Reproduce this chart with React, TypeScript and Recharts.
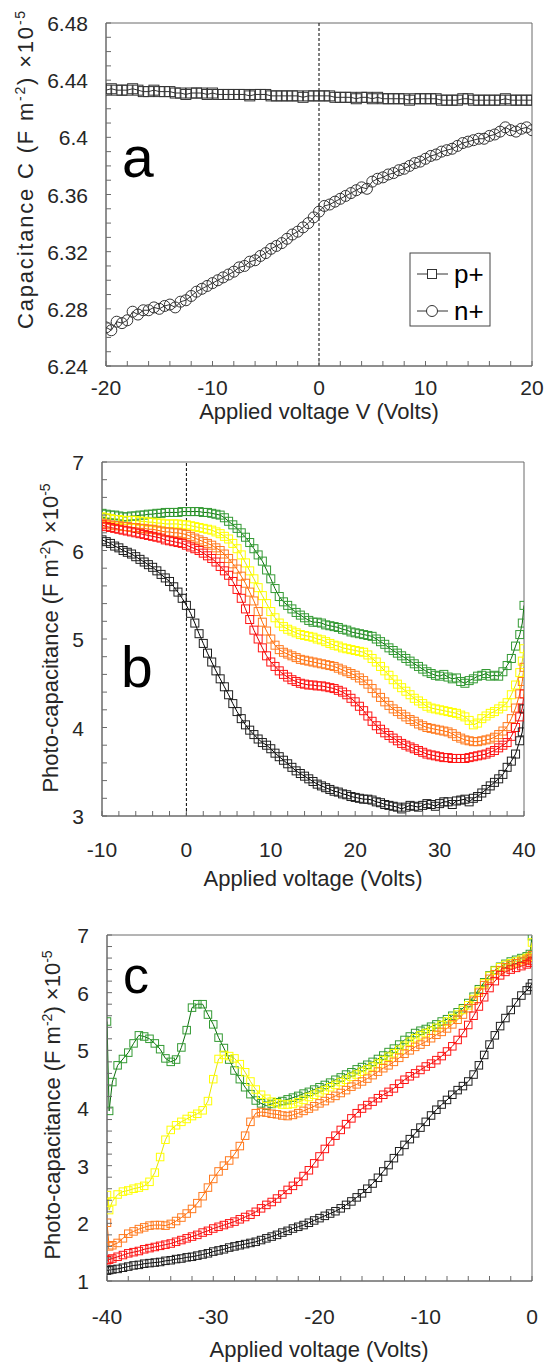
import React from 'react';
import { LineChart, Line, XAxis, YAxis, ReferenceLine, ReferenceArea } from 'recharts';

const FONT = 'Arial, "Liberation Sans", Helvetica, sans-serif';
const AXIS = '#6a6a6a';
const TXT = '#262626';

// ---------- Panel a ----------
const VOLT_A = [
  -20, -19.5, -19, -18.5, -18, -17.5, -17, -16.5, -16, -15.5,
  -15, -14.5, -14, -13.5, -13, -12.5, -12, -11.5, -11, -10.5,
  -10, -9.5, -9, -8.5, -8, -7.5, -7, -6.5, -6, -5.5,
  -5, -4.5, -4, -3.5, -3, -2.5, -2, -1.5, -1, -0.5,
  0, 0.5, 1, 1.5, 2, 2.5, 3, 3.5, 4, 4.5,
  5, 5.5, 6, 6.5, 7, 7.5, 8, 8.5, 9, 9.5,
  10, 10.5, 11, 11.5, 12, 12.5, 13, 13.5, 14, 14.5,
  15, 15.5, 16, 16.5, 17, 17.5, 18, 18.5, 19, 19.5,
  20];
const P_PLUS = [
  6.433, 6.434, 6.433, 6.433, 6.433, 6.434, 6.433, 6.432, 6.432, 6.433,
  6.432, 6.432, 6.432, 6.431, 6.431, 6.43, 6.431, 6.431, 6.431, 6.43,
  6.431, 6.43, 6.43, 6.43, 6.43, 6.43, 6.43, 6.429, 6.43, 6.43,
  6.43, 6.429, 6.429, 6.429, 6.429, 6.429, 6.429, 6.428, 6.429, 6.429,
  6.429, 6.429, 6.429, 6.428, 6.428, 6.428, 6.428, 6.427, 6.428, 6.428,
  6.427, 6.428, 6.427, 6.427, 6.427, 6.427, 6.427, 6.426, 6.427, 6.427,
  6.427, 6.427, 6.427, 6.426, 6.426, 6.426, 6.426, 6.427, 6.427, 6.426,
  6.426, 6.426, 6.426, 6.426, 6.426, 6.427, 6.426, 6.426, 6.426, 6.426,
  6.426];
const N_PLUS = [
  6.267, 6.265, 6.271, 6.27, 6.272, 6.278, 6.276, 6.279, 6.279, 6.281,
  6.28, 6.282, 6.283, 6.281, 6.285, 6.286, 6.289, 6.292, 6.294, 6.296,
  6.298, 6.3, 6.302, 6.304, 6.306, 6.309, 6.31, 6.313, 6.314, 6.317,
  6.319, 6.322, 6.324, 6.326, 6.329, 6.332, 6.334, 6.337, 6.34, 6.344,
  6.348, 6.352, 6.353, 6.355, 6.357, 6.359, 6.361, 6.363, 6.365, 6.364,
  6.369, 6.371, 6.372, 6.374, 6.375, 6.377, 6.378, 6.38, 6.382, 6.383,
  6.385, 6.387, 6.388, 6.39, 6.391, 6.392, 6.394, 6.396, 6.397, 6.398,
  6.399, 6.399, 6.401, 6.402, 6.404, 6.407, 6.405, 6.404, 6.406, 6.407,
  6.405];
const XTICKS_A = [-20, -18, -16, -14, -12, -10, -8, -6, -4, -2, 0, 2, 4, 6, 8, 10, 12, 14, 16, 18, 20];
const XLABELS_A = [-20, -10, 0, 10, 20];
const YTICKS_A = [6.24, 6.25, 6.26, 6.27, 6.28, 6.29, 6.3, 6.31, 6.32, 6.33, 6.34, 6.35, 6.36, 6.37, 6.38, 6.39, 6.4, 6.41, 6.42, 6.43, 6.44, 6.45, 6.46, 6.47, 6.48];
const YLABELS_A = [6.24, 6.28, 6.32, 6.36, 6.4, 6.44, 6.48];

// ---------- Panel b ----------
const VOLT_B = [
  -10, -9.5, -9, -8.5, -8, -7.5, -7, -6.5, -6, -5.5,
  -5, -4.5, -4, -3.5, -3, -2.5, -2, -1.5, -1, -0.5,
  0, 0.5, 1, 1.5, 2, 2.5, 3, 3.5, 4, 4.5,
  5, 5.5, 6, 6.5, 7, 7.5, 8, 8.5, 9, 9.5,
  10, 10.5, 11, 11.5, 12, 12.5, 13, 13.5, 14, 14.5,
  15, 15.5, 16, 16.5, 17, 17.5, 18, 18.5, 19, 19.5,
  20, 20.5, 21, 21.5, 22, 22.5, 23, 23.5, 24, 24.5,
  25, 25.5, 26, 26.5, 27, 27.5, 28, 28.5, 29, 29.5,
  30, 30.5, 31, 31.5, 32, 32.5, 33, 33.5, 34, 34.5,
  35, 35.5, 36, 36.5, 37, 37.5, 38, 38.5, 39, 39.5,
  39.8, 40];
const B_GREEN = [
  6.42, 6.41, 6.4, 6.4, 6.39, 6.38, 6.38, 6.39, 6.39, 6.4,
  6.4, 6.41, 6.41, 6.42, 6.42, 6.43, 6.43, 6.43, 6.43, 6.44,
  6.44, 6.44, 6.44, 6.44, 6.43, 6.43, 6.42, 6.41, 6.4, 6.37,
  6.33, 6.29, 6.25, 6.2, 6.15, 6.09, 6.02, 5.95, 5.88, 5.78,
  5.68, 5.57, 5.48, 5.42, 5.38, 5.34, 5.3, 5.27, 5.24, 5.21,
  5.19, 5.19, 5.18, 5.16, 5.15, 5.14, 5.13, 5.11, 5.1, 5.08,
  5.07, 5.06, 5.05, 5.04, 5.03, 5.0, 4.97, 4.94, 4.9, 4.87,
  4.84, 4.81, 4.78, 4.75, 4.72, 4.69, 4.66, 4.63, 4.61, 4.59,
  4.58, 4.6, 4.57, 4.55, 4.56, 4.52, 4.5, 4.53, 4.55, 4.58,
  4.59, 4.61, 4.58, 4.59, 4.58, 4.63, 4.7, 4.78, 4.92, 5.05,
  5.18, 5.38];
const B_YELLOW = [
  6.38, 6.37, 6.36, 6.35, 6.35, 6.34, 6.34, 6.34, 6.34, 6.33,
  6.33, 6.32, 6.32, 6.31, 6.31, 6.3, 6.3, 6.3, 6.3, 6.29,
  6.29, 6.28, 6.27, 6.26, 6.25, 6.24, 6.23, 6.21, 6.19, 6.16,
  6.13, 6.08, 6.02, 5.95, 5.86, 5.77, 5.68, 5.58, 5.49, 5.4,
  5.31, 5.24, 5.18, 5.14, 5.11, 5.09, 5.07, 5.05, 5.04, 5.03,
  5.02, 5.0, 4.99, 4.97, 4.95, 4.93, 4.92, 4.9, 4.89, 4.88,
  4.87, 4.86, 4.85, 4.82, 4.78, 4.74, 4.69, 4.64, 4.59, 4.54,
  4.49, 4.45, 4.41, 4.37, 4.33, 4.3, 4.27, 4.24, 4.22, 4.21,
  4.2, 4.19, 4.18, 4.17, 4.16, 4.14, 4.12, 4.08, 4.03, 4.05,
  4.1, 4.13, 4.16, 4.18, 4.21, 4.24, 4.28, 4.37, 4.48, 4.62,
  4.75, 4.89];
const B_ORANGE = [
  6.31, 6.3, 6.29, 6.28, 6.28, 6.27, 6.27, 6.26, 6.26, 6.25,
  6.25, 6.24, 6.24, 6.23, 6.22, 6.21, 6.21, 6.2, 6.2, 6.19,
  6.18, 6.16, 6.14, 6.12, 6.1, 6.08, 6.06, 6.03, 6.0, 5.96,
  5.91, 5.85, 5.79, 5.71, 5.63, 5.53, 5.43, 5.31, 5.19, 5.09,
  5.0, 4.93, 4.88, 4.85, 4.83, 4.81, 4.79, 4.77, 4.76, 4.75,
  4.74, 4.73, 4.72, 4.71, 4.7, 4.69, 4.67, 4.65, 4.63, 4.61,
  4.59, 4.56, 4.53, 4.49, 4.44, 4.39, 4.34, 4.29, 4.25, 4.21,
  4.18, 4.15, 4.12, 4.09, 4.07, 4.04, 4.02, 4.0, 3.99, 3.98,
  3.97, 3.96, 3.95, 3.93, 3.9, 3.88, 3.86, 3.85, 3.84, 3.84,
  3.85, 3.86, 3.87, 3.89, 3.92, 3.96, 4.01, 4.1, 4.22, 4.38,
  4.52, 4.68];
const B_RED = [
  6.29, 6.27, 6.26, 6.25, 6.24, 6.23, 6.22, 6.21, 6.2, 6.19,
  6.18, 6.17, 6.16, 6.15, 6.14, 6.12, 6.11, 6.1, 6.09, 6.08,
  6.06, 6.04, 6.02, 6.0, 5.97, 5.94, 5.91, 5.87, 5.82, 5.77,
  5.72, 5.65, 5.56, 5.46, 5.34, 5.22, 5.1, 5.0, 4.9, 4.81,
  4.74, 4.69, 4.64, 4.6, 4.57, 4.54, 4.52, 4.5, 4.49, 4.48,
  4.48, 4.47, 4.47, 4.46, 4.45, 4.44, 4.42, 4.4, 4.37, 4.33,
  4.29, 4.24, 4.19, 4.13, 4.07, 4.02, 3.98, 3.94, 3.91, 3.88,
  3.85, 3.82, 3.8, 3.78, 3.76, 3.74, 3.72, 3.7, 3.69, 3.68,
  3.67, 3.66, 3.66, 3.65, 3.65, 3.65, 3.65, 3.66, 3.67, 3.68,
  3.69, 3.7, 3.72, 3.74, 3.77, 3.8, 3.83, 3.9, 4.0, 4.12,
  4.22, 4.38];
const B_BLACK = [
  6.12, 6.1, 6.08, 6.05, 6.03, 6.0, 5.98, 5.96, 5.93, 5.9,
  5.87, 5.84, 5.81, 5.77, 5.73, 5.69, 5.65, 5.59, 5.53, 5.46,
  5.38, 5.29, 5.18, 5.06, 4.95, 4.84, 4.74, 4.64, 4.55, 4.46,
  4.37, 4.27, 4.18, 4.1, 4.03, 3.97, 3.92, 3.87, 3.83, 3.8,
  3.76, 3.71, 3.67, 3.63, 3.59, 3.55, 3.51, 3.48, 3.45, 3.42,
  3.39, 3.36, 3.34, 3.32, 3.3, 3.28, 3.27, 3.25, 3.24, 3.22,
  3.21, 3.2, 3.19, 3.19, 3.18, 3.16, 3.15, 3.13, 3.12, 3.11,
  3.1, 3.08, 3.1, 3.12, 3.11, 3.1, 3.12, 3.14, 3.13, 3.11,
  3.14, 3.16, 3.16, 3.13, 3.17, 3.18, 3.19, 3.16, 3.2, 3.22,
  3.26, 3.3, 3.34, 3.38, 3.42, 3.47, 3.55, 3.62, 3.7, 3.85,
  3.95, 4.21];
const XTICKS_B = [-10, -8, -6, -4, -2, 0, 2, 4, 6, 8, 10, 12, 14, 16, 18, 20, 22, 24, 26, 28, 30, 32, 34, 36, 38, 40];
const XLABELS_B = [-10, 0, 10, 20, 30, 40];
const YTICKS_B = [3, 3.2, 3.4, 3.6, 3.8, 4, 4.2, 4.4, 4.6, 4.8, 5, 5.2, 5.4, 5.6, 5.8, 6, 6.2, 6.4, 6.6, 6.8, 7];
const YLABELS_B = [3, 4, 5, 6, 7];

// ---------- Panel c ----------
const VOLT_C = [
  -40, -39.8,
  -39.5, -39, -38.5, -38, -37.5, -37, -36.5, -36, -35.5, -35,
  -34.5, -34, -33.5, -33, -32.5, -32, -31.5, -31, -30.5, -30,
  -29.5, -29, -28.5, -28, -27.5, -27, -26.5, -26, -25.5, -25,
  -24.5, -24, -23.5, -23, -22.5, -22, -21.5, -21, -20.5, -20,
  -19.5, -19, -18.5, -18, -17.5, -17, -16.5, -16, -15.5, -15,
  -14.5, -14, -13.5, -13, -12.5, -12, -11.5, -11, -10.5, -10,
  -9.5, -9, -8.5, -8, -7.5, -7, -6.5, -6, -5.5, -5,
  -4.5, -4, -3.5, -3, -2.5, -2, -1.5, -1, -0.5,
  -0.2, 0];
const C_GREEN = [
  5.5, 3.95,
  4.45, 4.74, 4.85, 4.96, 5.12, 5.26, 5.24, 5.2, 5.12, 5.02,
  4.86, 4.8, 4.84, 5.05, 5.35, 5.74, 5.8, 5.8, 5.62, 5.45,
  5.22, 5.04, 4.84, 4.65, 4.5, 4.36, 4.24, 4.13, 4.08, 4.04,
  4.07, 4.1, 4.12, 4.15, 4.18, 4.21, 4.25, 4.28, 4.32, 4.36,
  4.4, 4.44, 4.49, 4.53, 4.58, 4.62, 4.67, 4.71, 4.75, 4.8,
  4.85, 4.91, 4.97, 5.03, 5.1, 5.18, 5.24, 5.3, 5.34, 5.37,
  5.41, 5.45, 5.5, 5.54, 5.6, 5.66, 5.73, 5.82, 5.93, 6.06,
  6.18, 6.3, 6.39, 6.45, 6.5, 6.54, 6.57, 6.6, 6.63,
  6.67, 6.98];
const C_YELLOW = [
  2.49, 2.23,
  2.38, 2.5, 2.55, 2.57, 2.6, 2.62, 2.65, 2.72, 2.88, 3.15,
  3.45, 3.62, 3.7, 3.76, 3.81, 3.86, 3.9, 3.96, 4.12, 4.5,
  4.85, 4.92, 4.9, 4.86, 4.76, 4.62, 4.46, 4.32, 4.23, 4.16,
  4.11, 4.08, 4.06, 4.06, 4.07, 4.1, 4.14, 4.19, 4.23, 4.27,
  4.31, 4.36, 4.4, 4.45, 4.49, 4.54, 4.58, 4.63, 4.67, 4.72,
  4.77, 4.83, 4.89, 4.95, 5.01, 5.08, 5.15, 5.21, 5.26, 5.3,
  5.34, 5.39, 5.44, 5.5, 5.56, 5.62, 5.7, 5.78, 5.89, 6.03,
  6.16, 6.29, 6.38, 6.44, 6.48, 6.51, 6.54, 6.57, 6.6,
  6.62, 6.87];
const C_ORANGE = [
  2.01, 1.6,
  1.62, 1.66, 1.74, 1.82, 1.86, 1.9, 1.93, 1.96, 1.97, 1.97,
  1.96, 1.99, 2.04, 2.1, 2.17, 2.25, 2.35, 2.47, 2.62, 2.77,
  2.9, 3.0, 3.09, 3.2, 3.34, 3.52, 3.76, 3.91, 3.93, 3.92,
  3.9, 3.89, 3.87, 3.86, 3.88, 3.91, 3.95, 3.99, 4.03, 4.08,
  4.12, 4.17, 4.21, 4.26, 4.31, 4.37, 4.41, 4.46, 4.51, 4.57,
  4.63, 4.69, 4.74, 4.8, 4.87, 4.94, 5.0, 5.06, 5.1, 5.15,
  5.21, 5.27, 5.32, 5.38, 5.45, 5.53, 5.62, 5.73, 5.86, 6.0,
  6.13, 6.24, 6.32, 6.39, 6.44, 6.48, 6.51, 6.54, 6.57,
  6.6, 6.65];
const C_RED = [
  1.36, 1.37,
  1.39, 1.42, 1.45, 1.48, 1.5, 1.52, 1.55, 1.57, 1.59, 1.61,
  1.63, 1.65, 1.68, 1.71, 1.74, 1.77, 1.8, 1.84, 1.87, 1.91,
  1.94, 1.97, 2.0, 2.03, 2.07, 2.11, 2.15, 2.2, 2.26, 2.32,
  2.37, 2.43, 2.5, 2.58, 2.65, 2.72, 2.82, 2.92, 3.04, 3.16,
  3.29, 3.42, 3.52, 3.62, 3.72, 3.82, 3.91, 3.99, 4.05, 4.11,
  4.17, 4.23, 4.28, 4.34, 4.42, 4.49, 4.55, 4.6, 4.66, 4.72,
  4.77, 4.83, 4.9, 4.98, 5.07, 5.18, 5.3, 5.44, 5.6, 5.76,
  5.92, 6.08, 6.2, 6.3, 6.36, 6.4, 6.43, 6.46, 6.49,
  6.52, 6.55];
const C_BLACK = [
  1.18, 1.19,
  1.2, 1.21, 1.23, 1.25, 1.27, 1.28, 1.3, 1.31, 1.32, 1.33,
  1.35, 1.36, 1.38, 1.39, 1.41, 1.42, 1.44, 1.46, 1.48, 1.51,
  1.53, 1.55, 1.58, 1.6, 1.62, 1.64, 1.66, 1.68, 1.71, 1.74,
  1.77, 1.8, 1.84, 1.87, 1.91, 1.94, 1.97, 2.01, 2.05, 2.09,
  2.13, 2.17, 2.21, 2.26, 2.32, 2.38, 2.45, 2.52, 2.6, 2.69,
  2.79, 2.9, 3.01, 3.13, 3.25, 3.36, 3.46, 3.56, 3.66, 3.76,
  3.87, 3.97, 4.06, 4.14, 4.23, 4.31, 4.38, 4.46, 4.58, 4.74,
  4.92, 5.1, 5.26, 5.42, 5.56, 5.7, 5.83, 5.95, 6.04,
  6.1, 6.16];
const XTICKS_C = [-40, -38, -36, -34, -32, -30, -28, -26, -24, -22, -20, -18, -16, -14, -12, -10, -8, -6, -4, -2, 0];
const XLABELS_C = [-40, -30, -20, -10, 0];
const YTICKS_C = [1, 1.2, 1.4, 1.6, 1.8, 2, 2.2, 2.4, 2.6, 2.8, 3, 3.2, 3.4, 3.6, 3.8, 4, 4.2, 4.4, 4.6, 4.8, 5, 5.2, 5.4, 5.6, 5.8, 6, 6.2, 6.4, 6.6, 6.8, 7];
const YLABELS_C = [1, 2, 3, 4, 5, 6, 7];

const COLORS: Record<string, { marker: string; line: string }> = {
  green: { marker: '#339a33', line: '#0b6e0b' },
  yellow: { marker: '#ffff00', line: '#e6e600' },
  orange: { marker: '#ff7a1f', line: '#ff6a00' },
  red: { marker: '#ff1414', line: '#e00000' },
  black: { marker: '#1e1e1e', line: '#000000' },
};
const ORDER = ['green', 'yellow', 'orange', 'red', 'black'];

const rowsA = VOLT_A.map((v, i) => ({ v, p: P_PLUS[i], n: N_PLUS[i] }));
const rowsB = VOLT_B.map((v, i) => ({ v, green: B_GREEN[i], yellow: B_YELLOW[i], orange: B_ORANGE[i], red: B_RED[i], black: B_BLACK[i] }));
const rowsC = VOLT_C.map((v, i) => ({ v, green: C_GREEN[i], yellow: C_YELLOW[i], orange: C_ORANGE[i], red: C_RED[i], black: C_BLACK[i] }));

const squareDot = (color: string, size: number) => (p: any) => {
  const { cx, cy, index } = p;
  if (cx == null || cy == null) return <g key={`e${index}`} />;
  return <rect key={`s${index}`} x={cx - size / 2} y={cy - size / 2} width={size} height={size} fill="none" stroke={color} strokeWidth={1} />;
};
const circleDot = (color: string, r: number) => (p: any) => {
  const { cx, cy, index } = p;
  if (cx == null || cy == null) return <g key={`e${index}`} />;
  return <circle key={`c${index}`} cx={cx} cy={cy} r={r} fill="none" stroke={color} strokeWidth={1} />;
};

const makeXTick = (labels: number[], offset: number) => (p: any) => {
  const { x, y, payload } = p;
  const v = payload.value;
  return (
    <g>
      <line x1={x} x2={x} y1={y} y2={y - 5} stroke={AXIS} strokeWidth={1} />
      {labels.includes(v) && (
        <text x={x} y={y + offset} textAnchor="middle" fontSize={21} fill={TXT} fontFamily={FONT}>{String(v)}</text>
      )}
    </g>
  );
};
const makeYTick = (labels: number[]) => (p: any) => {
  const { x, y, payload } = p;
  const v = payload.value;
  return (
    <g>
      <line x1={x} x2={x + 5} y1={y} y2={y} stroke={AXIS} strokeWidth={1} />
      {labels.includes(v) && (
        <text x={x - 18} y={y + 8} textAnchor="end" fontSize={21} fill={TXT} fontFamily={FONT}>{String(v)}</text>
      )}
    </g>
  );
};

export default function App() {
  return (
    <div style={{ position: 'absolute', left: 0, top: 0, width: 546, height: 1362, background: '#fff', fontFamily: FONT }}>
      {/* Panel a */}
      <div style={{ position: 'absolute', left: 0, top: 0 }}>
        <LineChart width={546} height={450} data={rowsA} margin={{ top: 23, right: 14, left: 0, bottom: 54 }}>
          <XAxis type="number" dataKey="v" domain={[-20, 20]} ticks={XTICKS_A} interval={0} allowDataOverflow
            tickLine={false} tickSize={0} tickMargin={0} height={30} axisLine={{ stroke: AXIS }} tick={makeXTick(XLABELS_A, 29)} />
          <YAxis type="number" domain={[6.24, 6.48]} ticks={YTICKS_A} interval={0} allowDataOverflow width={106}
            tickLine={false} tickSize={0} tickMargin={0} axisLine={{ stroke: AXIS }} tick={makeYTick(YLABELS_A)} />
          <ReferenceArea x1={-20} x2={20} y1={6.24} y2={6.48} fill="none" stroke={AXIS} strokeWidth={1} ifOverflow="visible" />
          <ReferenceLine x={0} stroke="#000" strokeDasharray="3 2" strokeWidth={1} />
          <Line type="linear" dataKey="p" stroke="#333" strokeWidth={1} dot={squareDot('#333', 10)} activeDot={false} isAnimationActive={false} />
          <Line type="linear" dataKey="n" stroke="#333" strokeWidth={1} dot={circleDot('#333', 5.5)} activeDot={false} isAnimationActive={false} />
        </LineChart>
      </div>
      {/* Panel b */}
      <div style={{ position: 'absolute', left: 0, top: 450 }}>
        <LineChart width={546} height={450} data={rowsB} margin={{ top: 12, right: 22, left: 0, bottom: 54 }}>
          <XAxis type="number" dataKey="v" domain={[-10, 40]} ticks={XTICKS_B} interval={0} allowDataOverflow
            tickLine={false} tickSize={0} tickMargin={0} height={30} axisLine={{ stroke: AXIS }} tick={makeXTick(XLABELS_B, 41)} />
          <YAxis type="number" domain={[3, 7]} ticks={YTICKS_B} interval={0} allowDataOverflow width={102}
            tickLine={false} tickSize={0} tickMargin={0} axisLine={{ stroke: AXIS }} tick={makeYTick(YLABELS_B)} />
          <ReferenceArea x1={-10} x2={40} y1={3} y2={7} fill="none" stroke={AXIS} strokeWidth={1} ifOverflow="visible" />
          <ReferenceLine x={0} stroke="#000" strokeDasharray="3 2" strokeWidth={1} />
          {ORDER.map((k) => (
            <Line key={k} type="linear" dataKey={k} stroke={COLORS[k].line} strokeWidth={1} dot={squareDot(COLORS[k].marker, 8)} activeDot={false} isAnimationActive={false} />
          ))}
        </LineChart>
      </div>
      {/* Panel c */}
      <div style={{ position: 'absolute', left: 0, top: 900 }}>
        <LineChart width={546} height={462} data={rowsC} margin={{ top: 35, right: 14, left: 0, bottom: 51 }}>
          <XAxis type="number" dataKey="v" domain={[-40, 0]} ticks={XTICKS_C} interval={0} allowDataOverflow
            tickLine={false} tickSize={0} tickMargin={0} height={30} axisLine={{ stroke: AXIS }} tick={makeXTick(XLABELS_C, 43)} />
          <YAxis type="number" domain={[1, 7]} ticks={YTICKS_C} interval={0} allowDataOverflow width={107}
            tickLine={false} tickSize={0} tickMargin={0} axisLine={{ stroke: AXIS }} tick={makeYTick(YLABELS_C)} />
          <ReferenceArea x1={-40} x2={0} y1={1} y2={7} fill="none" stroke={AXIS} strokeWidth={1} ifOverflow="visible" />
          {ORDER.map((k) => (
            <Line key={k} type="linear" dataKey={k} stroke={COLORS[k].line} strokeWidth={1} dot={squareDot(COLORS[k].marker, 7.5)} activeDot={false} isAnimationActive={false} />
          ))}
        </LineChart>
      </div>
      {/* Text overlay: titles, panel letters, legend */}
      <svg width={546} height={1362} style={{ position: 'absolute', left: 0, top: 0, pointerEvents: 'none' }} fontFamily={FONT}>
        <text x={122} y={177} fontSize={57} fill="#000">a</text>
        <text x={121} y={687} fontSize={57} fill="#000">b</text>
        <text x={123} y={993} fontSize={52} fill="#000">c</text>

        <text x={319} y={419} textAnchor="middle" fontSize={22} fill={TXT}>Applied voltage V (Volts)</text>
        <text x={313} y={886} textAnchor="middle" fontSize={22} fill={TXT}>Applied voltage (Volts)</text>
        <text x={319} y={1357} textAnchor="middle" fontSize={22} fill={TXT}>Applied voltage (Volts)</text>

        <text transform="translate(33,169) rotate(-90)" textAnchor="middle" fontSize={22} letterSpacing={1.8} fill={TXT}>
          Capacitance C (F m<tspan dy={-8} fontSize={14}>-2</tspan><tspan dy={8}>) ×10</tspan><tspan dy={-8} fontSize={14}>-5</tspan>
        </text>
        <text transform="translate(58,638) rotate(-90)" textAnchor="middle" fontSize={22} fill={TXT}>
          Photo-capacitance (F m<tspan dy={-8} fontSize={14}>-2</tspan><tspan dy={8}>) ×10</tspan><tspan dy={-8} fontSize={14}>-5</tspan>
        </text>
        <text transform="translate(60,1105) rotate(-90)" textAnchor="middle" fontSize={22} fill={TXT}>
          Photo-capacitance (F m<tspan dy={-8} fontSize={14}>-2</tspan><tspan dy={8}>) ×10</tspan><tspan dy={-8} fontSize={14}>-5</tspan>
        </text>

        <rect x={410} y={253} width={80} height={73} fill="#fff" stroke="#444" strokeWidth={1} />
        <line x1={417} x2={448} y1={274} y2={274} stroke="#333" strokeWidth={1} />
        <rect x={427.5} y={269.5} width={9} height={9} fill="#fff" stroke="#333" strokeWidth={1} />
        <text x={454} y={283} fontSize={26} fill="#000">p+</text>
        <line x1={417} x2={448} y1={311} y2={311} stroke="#333" strokeWidth={1} />
        <circle cx={432} cy={311} r={5.5} fill="#fff" stroke="#333" strokeWidth={1} />
        <text x={454} y={320} fontSize={26} fill="#000">n+</text>
      </svg>
    </div>
  );
}
